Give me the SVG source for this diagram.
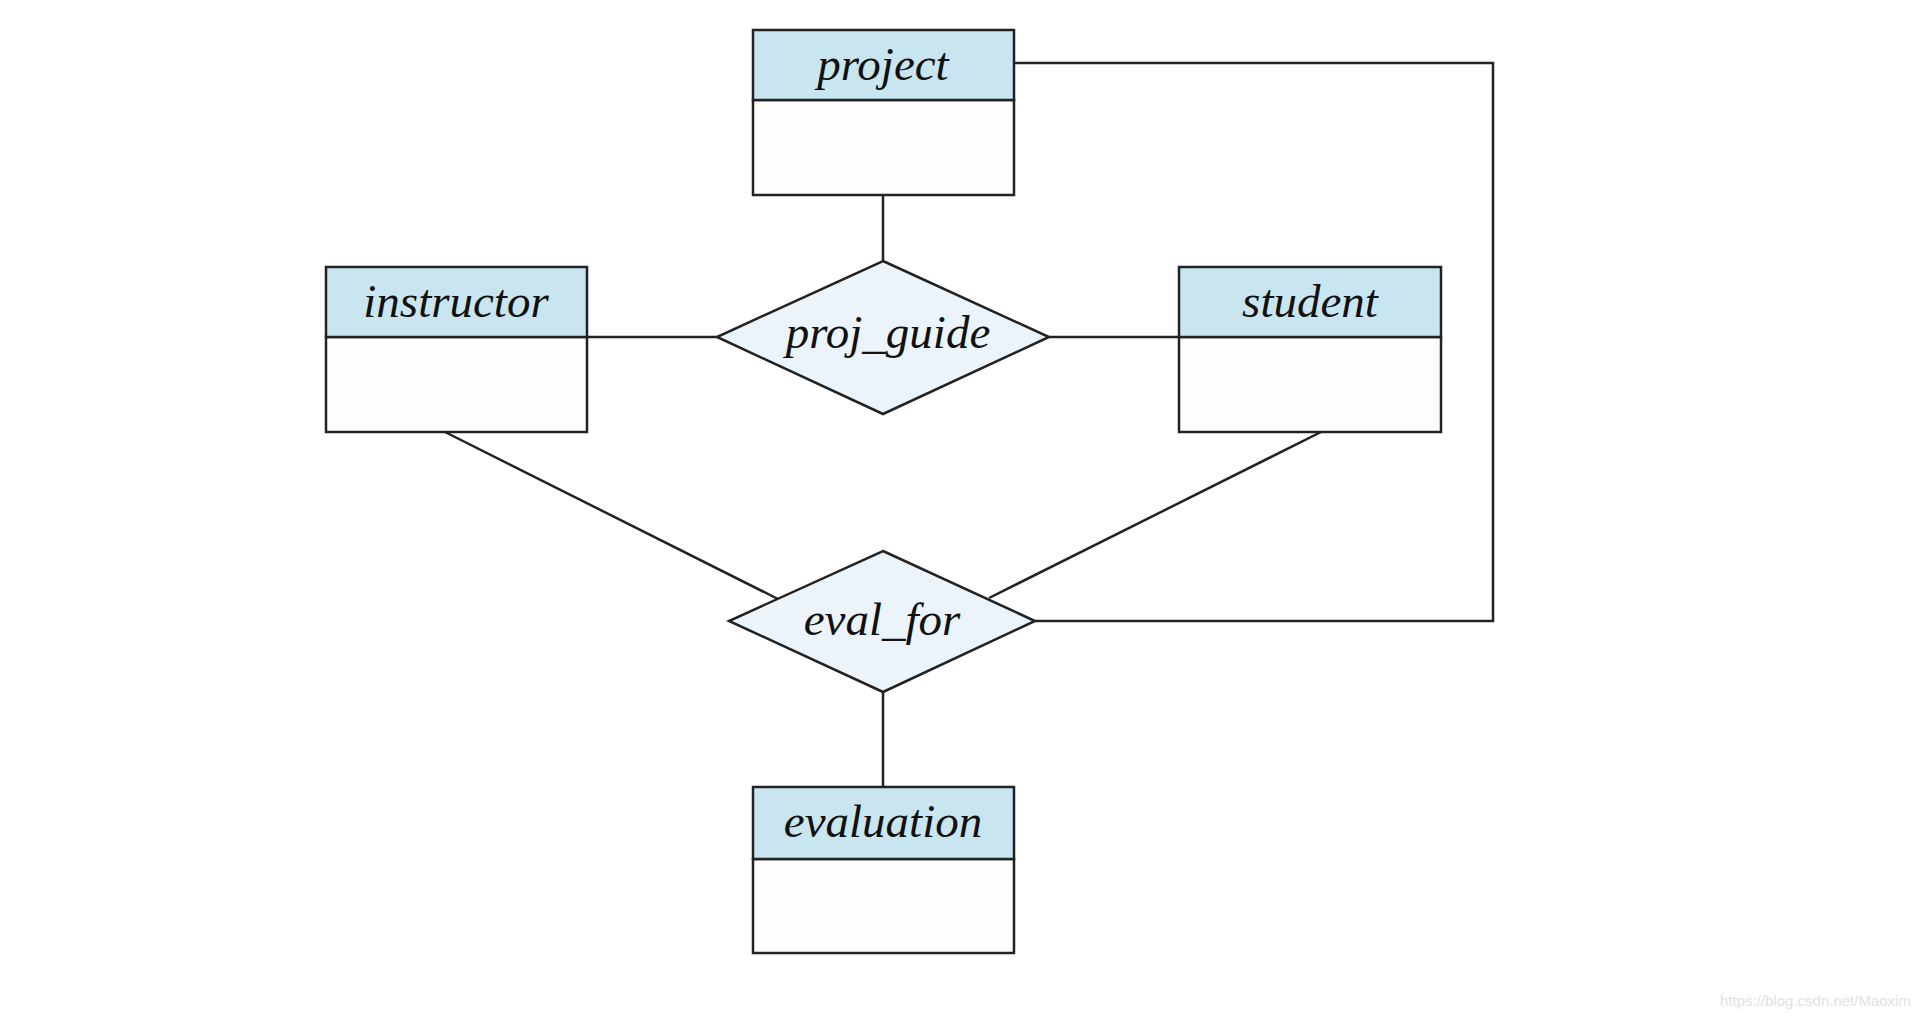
<svg xmlns="http://www.w3.org/2000/svg" width="1930" height="1020" viewBox="0 0 1930 1020">
<style>
.hdr{fill:#c9e6f0;stroke:#222;stroke-width:2.5}
.body{fill:#fdfdfb;stroke:#222;stroke-width:2.5}
.dia{fill:#eaf4fa;stroke:#222;stroke-width:2.5}
.lbl{font-family:"Liberation Serif",serif;font-style:italic;font-size:47px;fill:#111;text-anchor:middle}
.conn{fill:none;stroke:#222;stroke-width:2.5}
.wm{font-family:"Liberation Sans",sans-serif;font-size:15px;fill:#e2e2e2}
</style>
<rect width="1930" height="1020" fill="#ffffff"/>
<g id="connectors">
<line class="conn" x1="883" y1="195" x2="883" y2="261"/>
<line class="conn" x1="587" y1="337" x2="717" y2="337"/>
<line class="conn" x1="1049" y1="337" x2="1179" y2="337"/>
<line class="conn" x1="445" y1="432" x2="778" y2="599"/>
<line class="conn" x1="1321" y1="432" x2="989" y2="598"/>
<line class="conn" x1="883" y1="692" x2="883" y2="787"/>
<polyline class="conn" points="1014,63 1493,63 1493,621 1035,621"/>
</g>
<g id="project">
<rect class="body" x="753" y="100" width="261" height="95"/>
<rect class="hdr" x="753" y="30" width="261" height="70"/>
<text class="lbl" x="883" y="80">project</text>
</g>
<g id="instructor">
<rect class="body" x="326" y="337" width="261" height="95"/>
<rect class="hdr" x="326" y="267" width="261" height="70"/>
<text class="lbl" x="456" y="317">instructor</text>
</g>
<g id="student">
<rect class="body" x="1179" y="337" width="262" height="95"/>
<rect class="hdr" x="1179" y="267" width="262" height="70"/>
<text class="lbl" x="1310" y="317">student</text>
</g>
<g id="proj_guide">
<polygon class="dia" points="883,261 1049,337 883,414 717,337"/>
<text class="lbl" x="888" y="348">proj_guide</text>
</g>
<g id="eval_for">
<polygon class="dia" points="883,551 1035,621 883,692 729,621"/>
<text class="lbl" x="882" y="635">eval_for</text>
</g>
<g id="evaluation">
<rect class="body" x="753" y="859" width="261" height="94"/>
<rect class="hdr" x="753" y="787" width="261" height="72"/>
<text class="lbl" x="883" y="837">evaluation</text>
</g>
<text class="wm" x="1720" y="1006">https://blog.csdn.net/Maoxim</text>
</svg>
